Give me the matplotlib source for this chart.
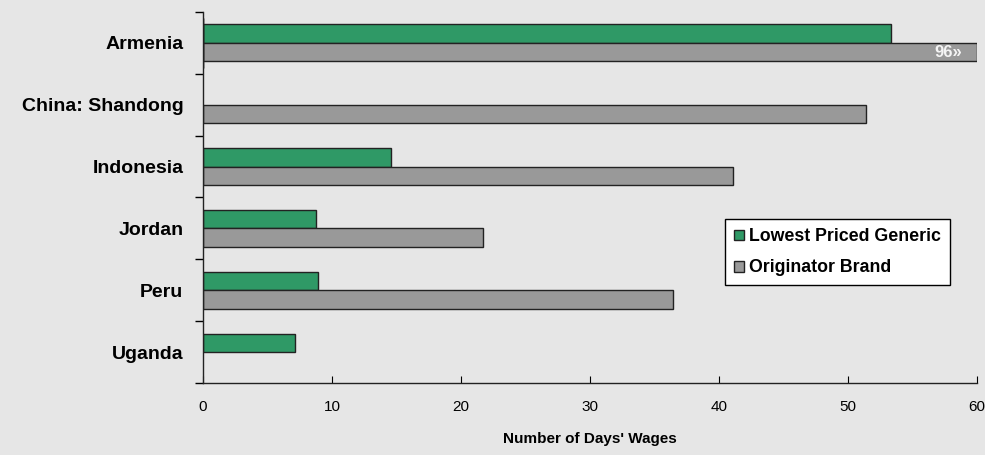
import matplotlib
matplotlib.use('Agg')
import matplotlib.pyplot as plt
import numpy as np

countries = ['Armenia', 'China: Shandong', 'Indonesia', 'Jordan', 'Peru', 'Uganda']
generic = [53.3, None, 14.6, 8.8, 8.9, 7.1]
brand = [96, 51.4, 41.1, 21.7, 36.4, None]
xmax = 60

green = '#2f9966'
grey = '#999999'
bg = '#e6e6e6'

plt.rcParams['font.family'] = ['Liberation Sans', 'DejaVu Sans']

fig = plt.figure(figsize=(9.85, 4.55), dpi=100, facecolor=bg)
ax = fig.add_axes([0.206, 0.158, 0.786, 0.816])
ax.set_facecolor(bg)

h = 0.3
y = np.arange(len(countries))
for i in range(len(countries)):
    if generic[i] is not None:
        ax.barh(y[i] - h / 2, min(generic[i], xmax), height=h, color=green,
                edgecolor='#222222', linewidth=1.0)
    if brand[i] is not None:
        ax.barh(y[i] + h / 2, min(brand[i], xmax), height=h, color=grey,
                edgecolor='#222222', linewidth=1.0)
        if brand[i] > xmax:
            ax.text(xmax - 1.2, y[i] + h / 2, '%d\u00bb' % brand[i], color='#f4f4f4',
                    fontsize=12, fontweight='bold', ha='right', va='center')

# legend proxies
ax.barh([0], [0], color=green, edgecolor='#222222', label='Lowest Priced Generic')
ax.barh([0], [0], color=grey, edgecolor='#222222', label='Originator Brand')

ax.set_xlim(0, xmax)
ax.set_ylim(len(countries) - 0.5, -0.5)
ax.set_xticks(np.arange(0, 61, 10))
ax.set_yticks(y)
ax.set_yticklabels(countries, fontsize=14, fontweight='bold')
ax.set_yticks(np.arange(-0.5, len(countries), 1), minor=True)
ax.tick_params(axis='y', which='major', length=0, pad=14)
ax.tick_params(axis='y', which='minor', length=6, direction='out', width=1)
ax.tick_params(axis='x', direction='in', length=5, labelsize=11, pad=12)

for s in ['top', 'right']:
    ax.spines[s].set_visible(False)
for s in ['left', 'bottom']:
    ax.spines[s].set_linewidth(1.0)
    ax.spines[s].set_color('#222222')

ax.set_xlabel("Number of Days' Wages", fontsize=11, fontweight='bold', labelpad=13)

leg = ax.legend(loc='upper left', bbox_to_anchor=(0.663, 0.465),
                prop={'size': 12.8, 'weight': 'bold'},
                frameon=True, fancybox=False, edgecolor='black', facecolor='white',
                handlelength=0.55, handleheight=0.55, handletextpad=0.3,
                labelspacing=0.8, borderpad=0.5, framealpha=1)
leg.get_frame().set_linewidth(1.0)

plt.savefig('out.png', dpi=100, facecolor=bg)
